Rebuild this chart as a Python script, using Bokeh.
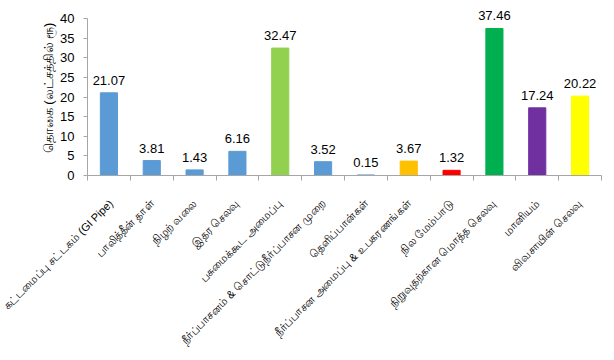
import math
from bokeh.plotting import figure
from bokeh.models import Range1d, FixedTicker, ColumnDataSource, LabelSet
from bokeh.core.properties import value
from bokeh.embed import file_html
from bokeh.resources import INLINE

categories = [
    "கட்டமைப்பு சட்டகம் (GI Pipe)",
    "பாலித்தீன் தாள்",
    "நிழற் வலை",
    "இதர செலவு",
    "பசுமைக்கூட அமைப்பு",
    "நீர்ப்பாசனம் & சொட்டுநீர்ப்பாசன முறை",
    "தெளிப்பான்கள்",
    "நீர்ப்பாசன அமைப்பு & உபகரணங்கள்",
    "நில மேம்பாடு",
    "நிறுவுதற்கான மொத்த செலவு",
    "மானியம்",
    "விவசாயின் செலவு",
]
values = [21.07, 3.81, 1.43, 6.16, 32.47, 3.52, 0.15, 3.67, 1.32, 37.46, 17.24, 20.22]
colors = ["#5b9bd5", "#5b9bd5", "#5b9bd5", "#5b9bd5", "#92d050", "#5b9bd5", "#5b9bd5",
          "#ffc000", "#ff0000", "#00b050", "#7030a0", "#ffff00"]
y_ticks = [0, 5, 10, 15, 20, 25, 30, 35, 40]
y_title = "தொகை (லட்சத்தில் ரூ)"

n = len(categories)
xs = [i + 0.5 for i in range(n)]
src = ColumnDataSource(dict(
    x=xs, v=values, c=colors,
    t=[f"{v:.2f}" for v in values],
))

# frame spans from the top of the canvas; the y axis itself is bounded to 0..40
y_top = y_ticks[-1] * 175.0 / 157.0

p = figure(width=614, height=360, output_backend="svg", toolbar_location=None,
           x_range=Range1d(0, n), y_range=Range1d(y_ticks[0], y_top),
           min_border_left=87, min_border_right=13, min_border_top=0, min_border_bottom=185)
p.outline_line_color = None
p.xgrid.visible = False
p.ygrid.visible = False
p.background_fill_color = "white"
p.border_fill_color = "white"

axis_col = "#a6a6a6"
p.yaxis.ticker = FixedTicker(ticks=y_ticks)
p.yaxis.bounds = (y_ticks[0], y_ticks[-1])
p.yaxis.axis_line_color = axis_col
p.yaxis.major_tick_line_color = axis_col
p.yaxis.major_tick_out = 4
p.yaxis.major_tick_in = 0
p.yaxis.minor_tick_line_color = None
p.yaxis.major_label_standoff = 9
p.yaxis.major_label_text_font = "Liberation Sans"
p.yaxis.major_label_text_font_size = "13px"
p.yaxis.major_label_text_color = "black"
p.yaxis.axis_label = y_title
p.yaxis.axis_label_text_font_style = "normal"
p.yaxis.axis_label_text_font_size = "13px"
p.yaxis.axis_label_text_color = "black"
p.yaxis.axis_label_standoff = 1

p.xaxis.ticker = FixedTicker(ticks=xs, minor_ticks=list(range(n + 1)))
p.xaxis.major_label_overrides = {x: c for x, c in zip(xs, categories)}
p.xaxis.axis_line_color = axis_col
p.xaxis.major_tick_line_color = None
p.xaxis.major_tick_out = 0
p.xaxis.major_tick_in = 0
p.xaxis.minor_tick_line_color = axis_col
p.xaxis.minor_tick_out = 5
p.xaxis.minor_tick_in = 0
p.xaxis.major_label_orientation = math.pi / 4
p.xaxis.major_label_standoff = 21
p.xaxis.major_label_text_font_size = "11px"
p.xaxis.major_label_text_color = "black"

p.vbar(x="x", top="v", width=0.4, fill_color="c", line_color="c", source=src)

p.add_layout(LabelSet(x="x", y="v", text="t", source=src, y_offset=8,
                      text_align="center", text_baseline="alphabetic",
                      text_font=value("Liberation Sans"), text_font_size="13px",
                      text_color="black"))

open("out.html", "w").write(file_html(p, INLINE))
